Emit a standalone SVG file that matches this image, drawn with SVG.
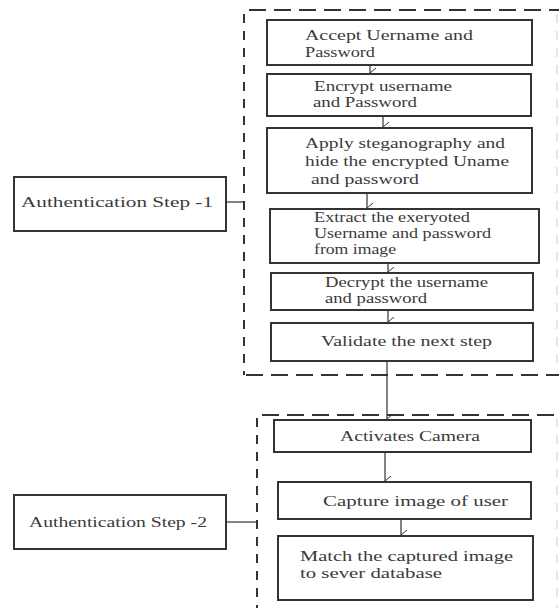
<svg xmlns="http://www.w3.org/2000/svg" width="559" height="608" viewBox="0 0 559 608">
<style>
.box{fill:#fff;stroke:#333;stroke-width:2}
.t{font-family:"Liberation Serif","Times New Roman",serif;font-size:14.5px;fill:#3a3a3a}
.h{fill:none;stroke:#333;stroke-width:2;stroke-dasharray:17 8}
.v{fill:none;stroke:#333;stroke-width:2;stroke-dasharray:9 8}
.r{fill:none;stroke:#ccc;stroke-width:1;stroke-dasharray:9 8}
.c{fill:none;stroke:#333;stroke-width:1.2}
</style>
<defs>
<marker id="a" markerWidth="10" markerHeight="8" refX="5" refY="6" orient="auto" markerUnits="userSpaceOnUse" viewBox="0 0 10 8">
<path d="M0,0 L5,6 L10,0" fill="none" stroke="#333" stroke-width="1"/>
</marker>
</defs>
<rect width="559" height="608" fill="#fff"/>
<g id="group1">
<line class="h" x1="249" y1="10" x2="559" y2="10"/>
<line class="v" x1="244" y1="14" x2="244" y2="375"/>
<line class="h" x1="246" y1="375" x2="559" y2="375"/>
<line class="r" x1="557" y1="14" x2="557" y2="372"/>
</g>
<g id="group2">
<line class="h" x1="262" y1="415" x2="559" y2="415"/>
<line class="v" x1="257" y1="418" x2="257" y2="608"/>
<line class="r" x1="557" y1="418" x2="557" y2="608"/>
</g>
<g id="connectors">
<line class="c" x1="370" y1="65" x2="370" y2="73" marker-end="url(#a)"/>
<line class="c" x1="383" y1="116" x2="383" y2="127" marker-end="url(#a)"/>
<line class="c" x1="367" y1="193" x2="367" y2="208" marker-end="url(#a)"/>
<line class="c" x1="388" y1="263" x2="388" y2="272" marker-end="url(#a)"/>
<line class="c" x1="388" y1="310" x2="388" y2="322" marker-end="url(#a)"/>
<line class="c" x1="387" y1="361" x2="387" y2="419" marker-end="url(#a)"/>
<line class="c" x1="385" y1="452" x2="385" y2="481" marker-end="url(#a)"/>
<line class="c" x1="401" y1="519" x2="401" y2="535" marker-end="url(#a)"/>
<line class="c" x1="226" y1="202" x2="244" y2="202"/>
<line class="c" x1="226" y1="522" x2="257" y2="522"/>
</g>
<g id="n1"><rect class="box" x="267" y="20" width="265" height="45"/>
<text class="t" x="305" y="40" textLength="168" lengthAdjust="spacingAndGlyphs">Accept Uername and</text>
<text class="t" x="305" y="57" textLength="70" lengthAdjust="spacingAndGlyphs">Password</text></g>
<g id="n2"><rect class="box" x="267" y="74" width="264" height="42"/>
<text class="t" x="314" y="91" textLength="138" lengthAdjust="spacingAndGlyphs">Encrypt username</text>
<text class="t" x="313" y="107" textLength="104" lengthAdjust="spacingAndGlyphs">and Password</text></g>
<g id="n3"><rect class="box" x="267" y="128" width="265" height="65"/>
<text class="t" x="305" y="148" textLength="200" lengthAdjust="spacingAndGlyphs">Apply steganography and</text>
<text class="t" x="305" y="166" textLength="204" lengthAdjust="spacingAndGlyphs">hide the encrypted Uname</text>
<text class="t" x="311" y="184" textLength="108" lengthAdjust="spacingAndGlyphs">and password</text></g>
<g id="n4"><rect class="box" x="270" y="209" width="269" height="54"/>
<text class="t" x="314" y="222" textLength="156" lengthAdjust="spacingAndGlyphs">Extract the exeryoted</text>
<text class="t" x="314" y="238" textLength="177" lengthAdjust="spacingAndGlyphs">Username and password</text>
<text class="t" x="314" y="254" textLength="82" lengthAdjust="spacingAndGlyphs">from image</text></g>
<g id="n5"><rect class="box" x="271" y="273" width="262" height="37"/>
<text class="t" x="325" y="287" textLength="163" lengthAdjust="spacingAndGlyphs">Decrypt the username</text>
<text class="t" x="325" y="303" textLength="102" lengthAdjust="spacingAndGlyphs">and password</text></g>
<g id="n6"><rect class="box" x="271" y="323" width="262" height="38"/>
<text class="t" x="321" y="346" textLength="171" lengthAdjust="spacingAndGlyphs">Validate the next step</text></g>
<g id="n7"><rect class="box" x="274" y="420" width="257" height="32"/>
<text class="t" x="340" y="441" textLength="140" lengthAdjust="spacingAndGlyphs">Activates Camera</text></g>
<g id="n8"><rect class="box" x="278" y="482" width="253" height="37"/>
<text class="t" x="323" y="506" textLength="185" lengthAdjust="spacingAndGlyphs">Capture image of user</text></g>
<g id="n9"><rect class="box" x="278" y="536" width="255" height="64"/>
<text class="t" x="300" y="561" textLength="213" lengthAdjust="spacingAndGlyphs">Match the captured image</text>
<text class="t" x="300" y="578" textLength="142" lengthAdjust="spacingAndGlyphs">to sever database</text></g>
<g id="s1"><rect class="box" x="14" y="177" width="212" height="54"/>
<text class="t" x="21" y="207" textLength="192" lengthAdjust="spacingAndGlyphs">Authentication Step -1</text></g>
<g id="s2"><rect class="box" x="14" y="495" width="212" height="54"/>
<text class="t" x="29" y="527" textLength="178" lengthAdjust="spacingAndGlyphs">Authentication Step -2</text></g>
</svg>
